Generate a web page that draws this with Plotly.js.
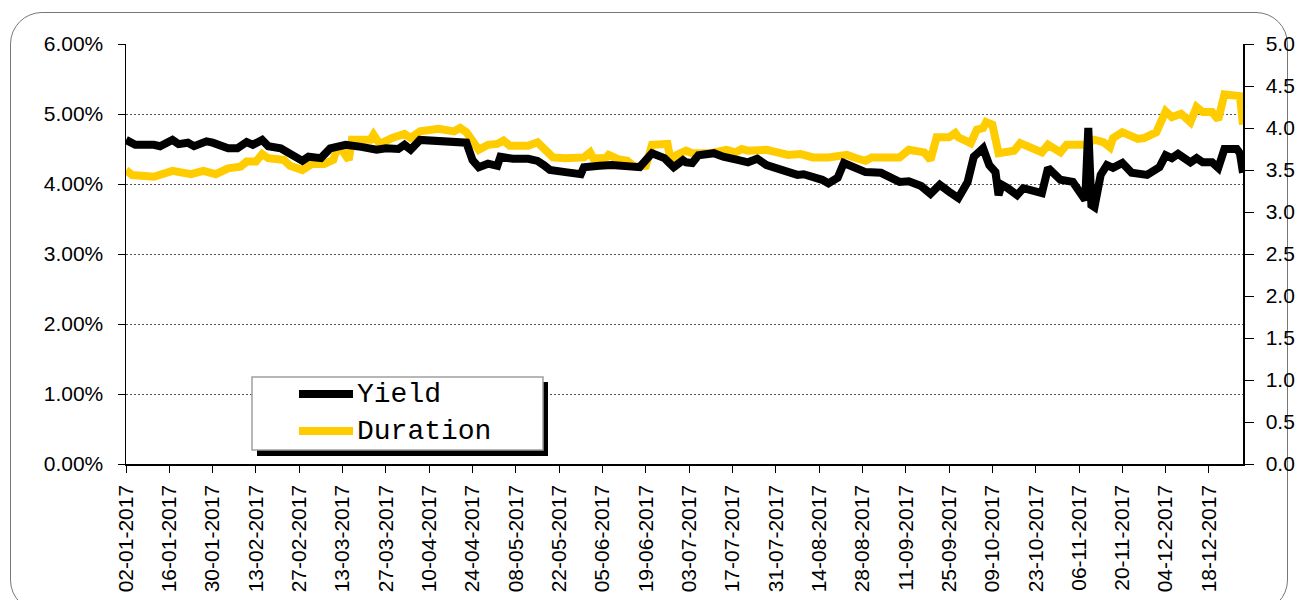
<!DOCTYPE html>
<html>
<head>
<meta charset="utf-8">
<script src="https://cdn.plot.ly/plotly-3.0.1.min.js"></script>
<style>
  html, body { margin: 0; padding: 0; background: #fff; }
  #frame { position: absolute; left: 10px; top: 12px; width: 1278px; height: 600px;
           border: 1px solid #777; border-radius: 32px; box-sizing: border-box; }
  #chart { position: absolute; left: 0; top: 0; width: 1298px; height: 600px; }
</style>
</head>
<body>
<div id="frame"></div>
<div id="chart"></div>
<script>
// ---- Data ----
var yieldDates = ['2017-01-02','2017-01-05','2017-01-11','2017-01-13','2017-01-17','2017-01-19','2017-01-22','2017-01-24','2017-01-28','2017-01-30',
  '2017-02-04','2017-02-07','2017-02-10','2017-02-12','2017-02-15','2017-02-17','2017-02-21','2017-02-25','2017-02-28',
  '2017-03-02','2017-03-06','2017-03-09','2017-03-14','2017-03-19','2017-03-24','2017-03-27','2017-03-31',
  '2017-04-02','2017-04-04','2017-04-07','2017-04-14','2017-04-18','2017-04-22','2017-04-24','2017-04-26','2017-04-29',
  '2017-05-02','2017-05-03','2017-05-07','2017-05-12','2017-05-15','2017-05-17','2017-05-19','2017-05-24','2017-05-29','2017-05-30',
  '2017-06-01','2017-06-04','2017-06-08','2017-06-13','2017-06-17','2017-06-21','2017-06-25','2017-06-28',
  '2017-07-01','2017-07-02','2017-07-04','2017-07-06','2017-07-11','2017-07-14','2017-07-18','2017-07-19','2017-07-22','2017-07-25','2017-07-28','2017-07-31',
  '2017-08-04','2017-08-07','2017-08-09','2017-08-13','2017-08-15','2017-08-17','2017-08-20','2017-08-22','2017-08-25','2017-08-29',
  '2017-09-03','2017-09-06','2017-09-09','2017-09-12','2017-09-16','2017-09-19','2017-09-22','2017-09-25','2017-09-28',
  '2017-10-01','2017-10-03','2017-10-04','2017-10-06','2017-10-08','2017-10-10','2017-10-11','2017-10-12','2017-10-14','2017-10-17','2017-10-19','2017-10-24','2017-10-25','2017-10-27','2017-10-31',
  '2017-11-04','2017-11-07','2017-11-08','2017-11-09','2017-11-10','2017-11-11','2017-11-13','2017-11-15','2017-11-17','2017-11-20','2017-11-23','2017-11-28','2017-11-30',
  '2017-12-02','2017-12-04','2017-12-06','2017-12-08','2017-12-12','2017-12-14','2017-12-16','2017-12-19','2017-12-21','2017-12-23','2017-12-27','2017-12-28','2017-12-29'];
var yieldValues = [4.63,4.56,4.56,4.54,4.63,4.57,4.59,4.54,4.61,4.59,
  4.51,4.51,4.60,4.56,4.63,4.54,4.51,4.39,4.33,
  4.39,4.37,4.51,4.56,4.53,4.49,4.51,4.50,
  4.56,4.49,4.63,4.61,4.60,4.59,4.34,4.24,4.29,
  4.26,4.39,4.36,4.36,4.33,4.27,4.20,4.17,4.14,4.24,
  4.24,4.26,4.27,4.26,4.24,4.44,4.37,4.24,
  4.34,4.31,4.30,4.41,4.44,4.39,4.37,4.34,4.31,4.36,4.27,4.23,
  4.17,4.13,4.14,4.10,4.06,4.01,4.09,4.30,4.24,4.17,
  4.16,4.09,4.03,4.04,3.97,3.86,3.99,3.89,3.80,
  4.03,4.39,4.43,4.51,4.27,4.17,3.84,3.99,3.94,3.84,3.94,3.90,3.87,4.23,4.06,
  4.03,3.80,3.77,4.80,3.70,3.67,4.13,4.27,4.23,4.30,4.16,4.13,4.20,
  4.24,4.41,4.37,4.43,4.31,4.37,4.31,4.31,4.23,4.50,4.50,4.44,4.16];

var durationDates = ['2017-01-02','2017-01-04','2017-01-11','2017-01-17','2017-01-23','2017-01-27','2017-01-31',
  '2017-02-04','2017-02-08','2017-02-10','2017-02-13','2017-02-15','2017-02-17','2017-02-22','2017-02-24','2017-02-28',
  '2017-03-03','2017-03-07','2017-03-10','2017-03-11','2017-03-13','2017-03-15','2017-03-16','2017-03-22','2017-03-23','2017-03-25','2017-03-29',
  '2017-04-02','2017-04-04','2017-04-07','2017-04-13','2017-04-18','2017-04-20','2017-04-22','2017-04-26','2017-04-29',
  '2017-05-02','2017-05-04','2017-05-06','2017-05-12','2017-05-15','2017-05-17','2017-05-20','2017-05-24','2017-05-30',
  '2017-06-01','2017-06-02','2017-06-06','2017-06-07','2017-06-10','2017-06-13','2017-06-15','2017-06-16','2017-06-19','2017-06-21','2017-06-26','2017-06-27','2017-06-29',
  '2017-07-02','2017-07-04','2017-07-10','2017-07-15','2017-07-18','2017-07-20','2017-07-22','2017-07-28',
  '2017-08-01','2017-08-04','2017-08-08','2017-08-12','2017-08-17','2017-08-23','2017-08-26','2017-08-29','2017-08-31',
  '2017-09-07','2017-09-09','2017-09-12','2017-09-17','2017-09-19','2017-09-21','2017-09-25','2017-09-27','2017-09-28',
  '2017-10-02','2017-10-04','2017-10-06','2017-10-07','2017-10-09','2017-10-11','2017-10-16','2017-10-18','2017-10-22','2017-10-25','2017-10-27','2017-10-31',
  '2017-11-02','2017-11-08','2017-11-11','2017-11-14','2017-11-16','2017-11-17','2017-11-20','2017-11-25','2017-11-27','2017-11-30',
  '2017-12-01','2017-12-04','2017-12-06','2017-12-09','2017-12-12','2017-12-14','2017-12-16','2017-12-19','2017-12-21','2017-12-23','2017-12-28','2017-12-29'];
var durationValues = [3.50,3.44,3.42,3.49,3.45,3.49,3.45,
  3.52,3.54,3.60,3.60,3.69,3.64,3.62,3.55,3.50,
  3.57,3.57,3.62,3.74,3.73,3.62,3.86,3.86,3.92,3.81,3.88,
  3.93,3.88,3.96,3.99,3.96,4.00,3.95,3.74,3.80,
  3.81,3.85,3.79,3.79,3.83,3.77,3.65,3.64,3.65,
  3.71,3.64,3.64,3.68,3.63,3.61,3.55,3.54,3.55,3.80,3.81,3.62,3.68,
  3.73,3.70,3.70,3.74,3.71,3.75,3.73,3.74,
  3.70,3.68,3.69,3.65,3.65,3.68,3.64,3.61,3.65,
  3.65,3.65,3.74,3.71,3.62,3.89,3.89,3.94,3.89,
  3.82,3.98,4.00,4.07,4.04,3.70,3.73,3.82,3.77,3.71,3.80,3.71,
  3.80,3.80,3.86,3.83,3.77,3.88,3.95,3.87,3.88,3.95,
  3.95,4.20,4.13,4.17,4.07,4.25,4.19,4.19,4.10,4.40,4.38,4.04];

var seriesNames = ['Yield', 'Duration'];
var seriesColors = ['#000000', '#FFCC00'];

// ---- Chart ----
var FONT = 'Liberation Sans, Arial, sans-serif';
var MONO = 'Liberation Mono, Courier New, monospace';
var traces = [
  { x: durationDates, y: durationValues, name: seriesNames[1], type: 'scatter', mode: 'lines',
    yaxis: 'y', line: { color: seriesColors[1], width: 8 } },
  { x: yieldDates, y: yieldValues, name: seriesNames[0], type: 'scatter', mode: 'lines',
    yaxis: 'y2', line: { color: seriesColors[0], width: 8 } }
];

// legend (drawn as in the reference: box with drop shadow)
function px2x(p) { return (p - 126) / 1117; }
function px2y(p) { return (464 - p) / 420; }

var layout = {
  width: 1298, height: 600,
  paper_bgcolor: 'rgba(0,0,0,0)', plot_bgcolor: '#ffffff',
  margin: { l: 126, r: 55, t: 44, b: 136, pad: 0 },
  showlegend: false,
  font: { family: FONT, size: 21, color: '#000' },
  xaxis: {
    type: 'date', range: ['2017-01-02', '2017-12-29'],
    tick0: '2017-01-02', dtick: 14 * 86400000, tickformat: '%d-%m-%Y',
    tickangle: -90, ticks: 'outside', ticklen: 7, tickcolor: '#000', tickwidth: 1,
    showline: true, linecolor: '#000', linewidth: 1.5, showgrid: false, zeroline: false,
    ticklabelstandoff: 4, tickfont: { family: FONT, size: 21, color: '#000' }
  },
  yaxis: {
    range: [0, 5], dtick: 0.5, tick0: 0, tickformat: '.1f', side: 'right',
    showline: true, linecolor: '#000', linewidth: 1.5, ticks: 'outside', ticklen: 9, tickcolor: '#000',
    showgrid: false, zeroline: false, ticklabelstandoff: 8,
    tickfont: { family: FONT, size: 21, color: '#000' }
  },
  yaxis2: {
    overlaying: 'y', side: 'left', range: [0, 6], dtick: 1, tick0: 0,
    tickformat: '.2f', ticksuffix: '%',
    showline: true, linecolor: '#000', linewidth: 1.5, ticks: 'outside', ticklen: 7, tickcolor: '#000',
    showgrid: true, gridcolor: '#555', gridwidth: 1, griddash: '2px,2px', zeroline: false,
    ticklabelstandoff: 10,
    tickfont: { family: FONT, size: 21, color: '#000' }
  },
  shapes: [
    { type: 'rect', xref: 'paper', yref: 'paper', x0: px2x(257), x1: px2x(548), y0: px2y(456), y1: px2y(382),
      fillcolor: '#000', line: { width: 0 } },
    { type: 'rect', xref: 'paper', yref: 'paper', x0: px2x(252), x1: px2x(543), y0: px2y(450), y1: px2y(377),
      fillcolor: '#fff', line: { color: '#a0a0a0', width: 1.5 } },
    { type: 'line', xref: 'paper', yref: 'paper', x0: px2x(299), x1: px2x(353), y0: px2y(394), y1: px2y(394),
      line: { color: seriesColors[0], width: 8 } },
    { type: 'line', xref: 'paper', yref: 'paper', x0: px2x(299), x1: px2x(353), y0: px2y(431), y1: px2y(431),
      line: { color: seriesColors[1], width: 8 } }
  ],
  annotations: [
    { xref: 'paper', yref: 'paper', x: px2x(355), y: px2y(394), xanchor: 'left', yanchor: 'middle',
      text: seriesNames[0], showarrow: false, font: { family: MONO, size: 28, color: '#000' } },
    { xref: 'paper', yref: 'paper', x: px2x(355), y: px2y(431), xanchor: 'left', yanchor: 'middle',
      text: seriesNames[1], showarrow: false, font: { family: MONO, size: 28, color: '#000' } }
  ]
};

Plotly.newPlot('chart', traces, layout, { staticPlot: true, displayModeBar: false });
</script>
</body>
</html>
